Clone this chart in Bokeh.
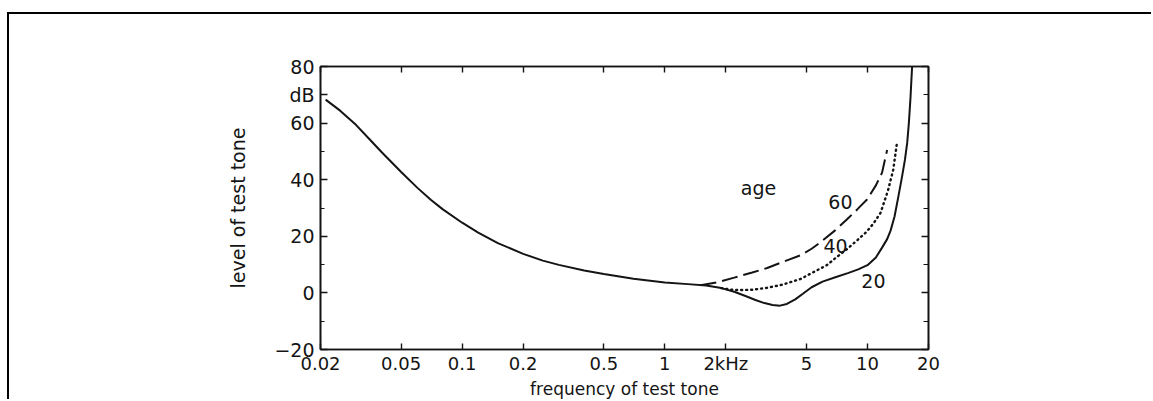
from bokeh.plotting import figure
from bokeh.models import (FixedTicker, LogAxis, LinearAxis, ColumnDataSource,
                          CustomJSTickFormatter, CustomLabelingPolicy)
from bokeh.embed import file_html
from bokeh.resources import INLINE
from bokeh.core.properties import value

FONT = "DejaVu Sans"
INK = "#141414"

# ---- tick values and labels ----
freq_ticks = [0.02, 0.05, 0.1, 0.2, 0.5, 1, 2, 5, 10, 20]
freq_tick_labels = ["0.02", "0.05", "0.1", "0.2", "0.5", "1", "2kHz", "5", "10", "20"]
level_ticks = [-20, 0, 20, 40, 60, 70, 80]
level_tick_labels = ["\u221220", "0", "20", "40", "60", "dB", "80"]
level_minor = [-10, 10, 30, 50]
right_major = [-20, 0, 20, 40, 60, 80]
right_minor = [-10, 10, 30, 50, 70]

# ---- threshold curves (kHz, dB) ----
age20_freq = [0.0212, 0.025, 0.03, 0.035, 0.04, 0.05, 0.06, 0.07, 0.08, 0.1, 0.12, 0.15,
              0.2, 0.25, 0.3, 0.4, 0.5, 0.7, 1.0, 1.3, 1.6, 1.9, 2.2, 2.5, 2.8, 3.1, 3.4,
              3.7, 4.0, 4.4, 4.8, 5.3, 6.0, 7.0, 8.0, 9.0, 10.0, 11.0, 11.8, 12.5, 13.0,
              13.6, 14.2, 14.8, 15.3, 15.7, 16.0, 16.3, 16.6]
age20_level = [68.3, 64.4, 59.3, 54.2, 49.8, 42.7, 37.2, 32.9, 29.6, 24.8, 21.3, 17.6,
               13.8, 11.4, 9.9, 7.9, 6.7, 5.0, 3.7, 3.1, 2.6, 1.7, 0.4, -1.1, -2.5, -3.6, -4.3,
               -4.5, -3.9, -2.3, -0.3, 2.0, 4.0, 5.6, 7.0, 8.3, 9.8, 12.5, 16.0, 19.0, 22.0,
               27.0, 34.0, 41.0, 47.0, 53.0, 60.0, 69.0, 80.0]

age40_freq = [1.9, 2.2, 2.7, 3.2, 3.8, 4.67, 5.3, 6.3, 7.0, 7.9, 8.8, 9.8, 10.7, 11.6,
              12.6, 13.4, 14.0]
age40_level = [1.7, 1.0, 1.1, 1.8, 2.9, 4.9, 7.0, 9.8, 12.5, 15.4, 18.3, 21.3, 24.5, 28.3,
               36.0, 43.5, 53.4]

age60_freq = [1.5, 1.8, 2.2, 2.7, 3.2, 3.9, 4.67, 5.3, 5.86, 6.9, 7.93, 8.9, 9.95, 11.0,
              11.8, 12.5]
age60_level = [2.7, 3.7, 5.4, 7.2, 8.8, 11.2, 13.3, 15.6, 17.9, 22.0, 26.0, 29.5, 33.0, 38.0,
               42.5, 50.5]

# ---- curve annotations ----
note_text = ["age", "60", "40", "20"]
note_freq = [2.9, 7.35, 6.95, 10.7]
note_level = [37.2, 32.0, 16.5, 4.2]

x_title = "frequency of test tone"
y_title = "level of test tone"

p = figure(width=1144, height=387, x_axis_type="log", x_range=(0.02, 20), y_range=(-20, 80),
           output_backend="svg", toolbar_location=None,
           min_border_left=311, min_border_right=225, min_border_top=52, min_border_bottom=50,
           background_fill_color="white", border_fill_color="white",
           styles={"border-top": "2px solid black", "border-left": "2px solid black",
                   "margin-left": "7px", "margin-top": "12px"})
p.grid.visible = False
p.outline_line_color = INK
p.outline_line_width = 1.6

def lookup_formatter(vals, names):
    return CustomJSTickFormatter(args=dict(tvals=vals, tnames=names), code="""
        for (let i = 0; i < tvals.length; i++) {
            if (Math.abs(tvals[i] - tick) < 1e-6 * Math.max(1, Math.abs(tvals[i]))) return tnames[i];
        }
        return "";
    """)

def no_labels():
    return CustomLabelingPolicy(code="""
        for (let i = 0; i < indices.size; i++) { indices.unset(i) }
        return indices
    """)

# bottom axis
xa = p.xaxis[0]
xa.ticker = FixedTicker(ticks=freq_ticks, minor_ticks=[])
xa.formatter = lookup_formatter(freq_ticks, freq_tick_labels)
xa.major_tick_in = 6
xa.major_tick_out = 0
xa.axis_line_color = INK
xa.axis_line_width = 1.6
xa.major_tick_line_color = INK
xa.major_tick_line_width = 1.4
xa.major_label_text_font = FONT
xa.major_label_text_font_size = "18px"
xa.major_label_text_color = INK
xa.major_label_standoff = 3
xa.axis_label = x_title
xa.axis_label_text_font = FONT
xa.axis_label_text_font_size = "17px"
xa.axis_label_text_font_style = "normal"
xa.axis_label_text_color = INK
xa.axis_label_standoff = 2

# left axis
ya = p.yaxis[0]
ya.ticker = FixedTicker(ticks=level_ticks, minor_ticks=level_minor)
ya.formatter = lookup_formatter(level_ticks, level_tick_labels)
ya.major_tick_in = 7
ya.major_tick_out = 0
ya.minor_tick_in = 4
ya.minor_tick_out = 0
ya.axis_line_color = INK
ya.axis_line_width = 1.6
ya.major_tick_line_color = INK
ya.major_tick_line_width = 1.4
ya.minor_tick_line_color = INK
ya.minor_tick_line_width = 1.2
ya.major_label_text_font = FONT
ya.major_label_text_font_size = "19px"
ya.major_label_text_color = INK
ya.major_label_standoff = 6
ya.major_label_orientation = "horizontal"
ya.axis_label = y_title
ya.axis_label_text_font = FONT
ya.axis_label_text_font_size = "19px"
ya.axis_label_text_font_style = "normal"
ya.axis_label_text_color = INK
ya.axis_label_standoff = 22

# top and right tick-only axes (no labels)
top = LogAxis(ticker=FixedTicker(ticks=freq_ticks, minor_ticks=[]),
              major_tick_in=6, major_tick_out=0, major_label_standoff=0,
              major_label_policy=no_labels(),
              axis_line_color=INK, axis_line_width=1.6,
              major_tick_line_color=INK, major_tick_line_width=1.4)
p.add_layout(top, "above")
right = LinearAxis(ticker=FixedTicker(ticks=right_major, minor_ticks=right_minor),
                   major_tick_in=7, major_tick_out=0, minor_tick_in=5, minor_tick_out=0,
                   major_label_standoff=0, major_label_policy=no_labels(),
                   axis_line_color=INK, axis_line_width=1.6,
                   major_tick_line_color=INK, major_tick_line_width=1.4,
                   minor_tick_line_color=INK, minor_tick_line_width=1.2)
p.add_layout(right, "right")

# curves
p.line(age20_freq, age20_level, line_color=INK, line_width=2.0)
p.line(age40_freq, age40_level, line_color=INK, line_width=2.4, line_dash="1 4", line_cap="round")
p.line(age60_freq, age60_level, line_color=INK, line_width=2.0, line_dash="16 6")

notes = ColumnDataSource(dict(x=note_freq, y=note_level, text=note_text))
p.text(x="x", y="y", text="text", source=notes, text_font=value(FONT), text_font_size="19px",
       text_align="center", text_baseline="middle", text_color=INK)

open("out.html", "w").write(file_html(p, INLINE))
